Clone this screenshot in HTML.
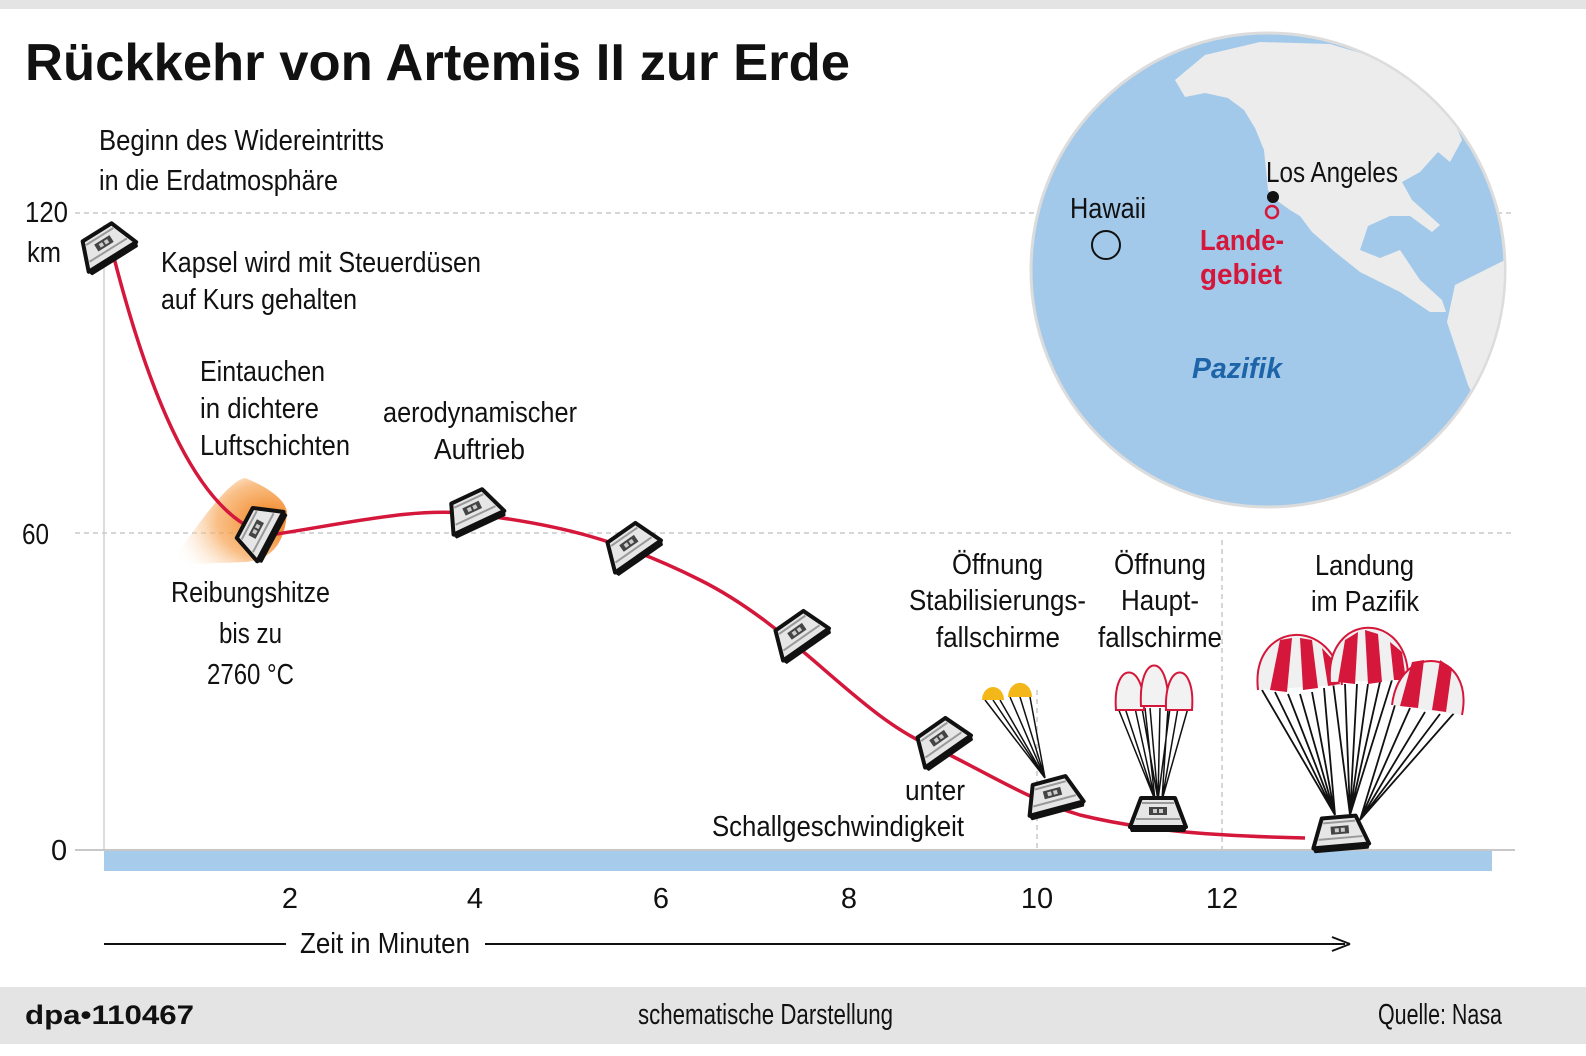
<!DOCTYPE html>
<html><head><meta charset="utf-8"><style>
html,body{margin:0;padding:0;background:#fff;}
svg{display:block;}
text{font-family:"Liberation Sans Narrow","Liberation Sans",sans-serif;fill:#111;font-size:29px;}
</style></head><body>
<svg width="1586" height="1056" viewBox="0 0 1586 1056" xmlns="http://www.w3.org/2000/svg">
<defs>
<g id="cap">
<path d="M-17,-15 L17,-15 L28,14 L-28,14 Z" fill="#e6e6e6" stroke="#111" stroke-width="4" stroke-linejoin="round"/>
<path d="M-29,14 L29,14 L27,19 L-27,19 Z" fill="#111"/>
<rect x="-9" y="-6" width="18" height="8" fill="#444"/>
<rect x="-5" y="-4" width="4" height="4" fill="#ccc"/><rect x="1" y="-4" width="4" height="4" fill="#ccc"/>
<path d="M-16,-10 L16,-10 M-22,6 L22,6" stroke="#999" stroke-width="2"/>
</g>
<radialGradient id="heat" cx="0.85" cy="0.5" r="0.9">
<stop offset="0" stop-color="#f07a10"/><stop offset="0.5" stop-color="#f7a555" stop-opacity="0.7"/><stop offset="1" stop-color="#fff" stop-opacity="0"/>
</radialGradient>
<clipPath id="gclip"><circle cx="1268" cy="270" r="236"/></clipPath>
</defs>
<rect x="0" y="0" width="1586" height="9" fill="#e4e4e4"/>
<text x="25" y="80" font-weight="bold" textLength="825" lengthAdjust="spacingAndGlyphs" style="font-family:'Liberation Sans',sans-serif;font-size:52px">Rückkehr von Artemis II zur Erde</text>

<!-- grid -->
<g stroke="#c8c8c8" stroke-width="1.5" stroke-dasharray="5,4">
<line x1="75" y1="213" x2="1515" y2="213"/>
<line x1="75" y1="533" x2="1515" y2="533"/>
<line x1="1037" y1="690" x2="1037" y2="850"/>
<line x1="1222" y1="540" x2="1222" y2="850"/>
</g>
<line x1="104" y1="225" x2="104" y2="850" stroke="#d0d0d0" stroke-width="1.5"/>
<line x1="75" y1="850" x2="1515" y2="850" stroke="#c8c8c8" stroke-width="2"/>
<rect x="104" y="851" width="1388" height="20" fill="#a7cbea"/>

<!-- globe -->
<circle cx="1268" cy="270" r="237" fill="#a3c9ea" stroke="#dcdcdc" stroke-width="3"/>
<g clip-path="url(#gclip)" fill="#ececec">
<path d="M1175,80 L1205,55 L1260,42 L1330,44 L1400,65 L1445,100 L1462,140 L1450,162 L1438,152 L1420,172 L1402,182 L1412,200 L1440,225 L1432,232 L1410,216 L1390,216 L1368,226 L1360,250 L1380,258 L1400,250 L1420,280 L1442,300 L1446,312 L1430,312 L1400,292 L1360,272 L1335,252 L1312,232 L1300,216 L1290,210 L1276,200 L1268,190 L1264,150 L1255,128 L1244,110 L1228,98 L1205,93 L1185,97 Z"/>
<path d="M1455,285 L1515,255 L1520,410 L1490,430 L1468,385 L1447,322 Z"/>
</g>
<text x="1266" y="182" textLength="132" lengthAdjust="spacingAndGlyphs">Los Angeles</text>
<circle cx="1273" cy="197" r="6" fill="#111"/>
<circle cx="1272" cy="212" r="6" fill="none" stroke="#d4173a" stroke-width="2.5"/>
<text x="1200" y="250" font-weight="bold" style="fill:#d4173a" textLength="84" lengthAdjust="spacingAndGlyphs">Lande-</text>
<text x="1200" y="284" font-weight="bold" style="fill:#d4173a" textLength="82" lengthAdjust="spacingAndGlyphs">gebiet</text>
<text x="1070" y="218" textLength="76" lengthAdjust="spacingAndGlyphs">Hawaii</text>
<circle cx="1106" cy="245" r="14" fill="none" stroke="#111" stroke-width="2"/>
<text x="1192" y="378" font-weight="bold" font-style="italic" style="fill:#1d64a8" textLength="90" lengthAdjust="spacingAndGlyphs">Pazifik</text>

<!-- heat glow -->
<path d="M170,565 C200,520 230,480 245,478 C270,488 285,500 287,512 C285,545 270,560 245,562 Z" fill="url(#heat)"/>

<!-- trajectory -->
<path d="M112,250 C150,400 200,520 270,535 C340,525 420,505 480,515 C560,525 620,540 700,580 C800,630 860,720 940,750 C1000,780 1030,800 1080,815 C1150,832 1220,836 1305,838" fill="none" stroke="#d4173a" stroke-width="3.5"/>

<!-- parachutes: stabilizing -->
<g stroke="#111" stroke-width="1.5">
<path d="M985,700 L1045,778 M993,700 L1045,778 M1000,700 L1045,778 M1010,697 L1045,778 M1020,697 L1045,778 M1030,697 L1045,778"/>
</g>
<path d="M982,700 A11,13 0 0 1 1004,700 Z" fill="#f4b719"/>
<path d="M1008,697 A11,13 0 0 1 1032,697 Z" fill="#f4b719"/>
<!-- main small -->
<g stroke="#111" stroke-width="1.5">
<path d="M1118,708 L1155,800 M1125,708 L1155,800 M1135,708 L1155,800 M1145,708 L1155,800 M1142,708 L1158,800 M1150,708 L1158,800 M1160,708 L1158,800 M1170,708 L1158,800 M1168,708 L1162,800 M1178,708 L1162,800 M1188,708 L1162,800"/>
</g>
<g fill="#f2f2f2" stroke="#d4173a" stroke-width="2">
<path d="M1116,710 C1112,660 1145,660 1144,710 Z"/>
<path d="M1141,706 C1138,652 1170,652 1168,706 Z"/>
<path d="M1166,710 C1164,660 1196,660 1192,710 Z"/>
</g>
<!-- landing -->
<g stroke="#111" stroke-width="1.8">
<path d="M1262,690 L1335,815 M1275,692 L1335,815 M1288,694 L1335,815 M1300,694 L1335,815 M1312,692 L1335,815 M1324,688 L1335,815"/>
<path d="M1333,682 L1350,815 M1345,684 L1350,815 M1357,684 L1350,815 M1368,684 L1350,815 M1380,682 L1350,815 M1392,680 L1350,815"/>
<path d="M1395,705 L1360,820 M1410,708 L1360,820 M1425,712 L1360,820 M1440,714 L1360,820 M1455,712 L1360,820"/>
</g>
<g>
<path d="M1258,690 C1250,620 1335,615 1342,685 Z" fill="#f0f0f0"/>
<path d="M1258,690 C1250,620 1335,615 1342,685" fill="none" stroke="#d4173a" stroke-width="2"/>
<path d="M1270,690 L1280,640 L1292,638 L1287,692 Z M1303,690 L1300,638 L1312,640 L1318,688 Z M1328,686 L1322,648 L1333,660 L1340,684 Z" fill="#d4173a"/>
<path d="M1330,682 C1325,610 1410,610 1408,680 Z" fill="#f0f0f0"/>
<path d="M1330,682 C1325,610 1410,610 1408,680" fill="none" stroke="#d4173a" stroke-width="2"/>
<path d="M1338,682 L1345,640 L1358,632 L1355,684 Z M1368,684 L1365,630 L1378,634 L1382,682 Z M1394,680 L1390,642 L1402,652 L1406,680 Z" fill="#d4173a"/>
<path d="M1392,705 C1400,640 1475,650 1462,715 Z" fill="#f0f0f0"/>
<path d="M1392,705 C1400,640 1475,650 1462,715" fill="none" stroke="#d4173a" stroke-width="2"/>
<path d="M1400,706 L1412,662 L1424,660 L1418,708 Z M1432,710 L1440,660 L1452,668 L1446,712 Z" fill="#d4173a"/>
</g>

<!-- capsules -->
<use href="#cap" transform="translate(105,245) rotate(-32)"/>
<use href="#cap" transform="translate(258,530) rotate(-62)"/>
<use href="#cap" transform="translate(473,510) rotate(-25)"/>
<use href="#cap" transform="translate(630,545) rotate(-35)"/>
<use href="#cap" transform="translate(798,633) rotate(-35)"/>
<use href="#cap" transform="translate(940,740) rotate(-35)"/>
<use href="#cap" transform="translate(1053,795) rotate(-15)"/>
<use href="#cap" transform="translate(1158,813) rotate(0)"/>
<use href="#cap" transform="translate(1340,832) rotate(-5)"/>

<!-- axis labels -->
<text x="25" y="222" textLength="43" lengthAdjust="spacingAndGlyphs">120</text>
<text x="27" y="262" textLength="34" lengthAdjust="spacingAndGlyphs">km</text>
<text x="22" y="544" textLength="27" lengthAdjust="spacingAndGlyphs">60</text>
<text x="51" y="860">0</text>
<g text-anchor="middle">
<text x="290" y="908">2</text><text x="475" y="908">4</text><text x="661" y="908">6</text>
<text x="849" y="908">8</text><text x="1037" y="908">10</text><text x="1222" y="908">12</text>
</g>
<line x1="104" y1="944" x2="286" y2="944" stroke="#111" stroke-width="2"/>
<line x1="485" y1="944" x2="1345" y2="944" stroke="#111" stroke-width="2"/>
<path d="M1350,944 L1332,937 M1350,944 L1332,951" stroke="#111" stroke-width="2" fill="none"/>
<text x="300" y="953" textLength="170" lengthAdjust="spacingAndGlyphs">Zeit in Minuten</text>

<!-- annotations -->
<text x="99" y="150" textLength="285" lengthAdjust="spacingAndGlyphs">Beginn des Widereintritts</text>
<text x="99" y="190" textLength="239" lengthAdjust="spacingAndGlyphs">in die Erdatmosphäre</text>
<text x="161" y="272" textLength="320" lengthAdjust="spacingAndGlyphs">Kapsel wird mit Steuerdüsen</text>
<text x="161" y="309" textLength="196" lengthAdjust="spacingAndGlyphs">auf Kurs gehalten</text>
<text x="200" y="381" textLength="125" lengthAdjust="spacingAndGlyphs">Eintauchen</text>
<text x="200" y="418" textLength="119" lengthAdjust="spacingAndGlyphs">in dichtere</text>
<text x="200" y="455" textLength="150" lengthAdjust="spacingAndGlyphs">Luftschichten</text>
<text x="383" y="422" textLength="194" lengthAdjust="spacingAndGlyphs">aerodynamischer</text>
<text x="434" y="459" textLength="91" lengthAdjust="spacingAndGlyphs">Auftrieb</text>
<text x="171" y="602" textLength="159" lengthAdjust="spacingAndGlyphs">Reibungshitze</text>
<text x="219" y="643" textLength="63" lengthAdjust="spacingAndGlyphs">bis zu</text>
<text x="207" y="684" textLength="87" lengthAdjust="spacingAndGlyphs">2760 °C</text>
<text x="952" y="574" textLength="91" lengthAdjust="spacingAndGlyphs">Öffnung</text>
<text x="909" y="610" textLength="177" lengthAdjust="spacingAndGlyphs">Stabilisierungs-</text>
<text x="936" y="647" textLength="124" lengthAdjust="spacingAndGlyphs">fallschirme</text>
<text x="1114" y="574" textLength="92" lengthAdjust="spacingAndGlyphs">Öffnung</text>
<text x="1121" y="610" textLength="78" lengthAdjust="spacingAndGlyphs">Haupt-</text>
<text x="1098" y="647" textLength="124" lengthAdjust="spacingAndGlyphs">fallschirme</text>
<text x="1315" y="575" textLength="99" lengthAdjust="spacingAndGlyphs">Landung</text>
<text x="1311" y="611" textLength="108" lengthAdjust="spacingAndGlyphs">im Pazifik</text>
<text x="905" y="800" textLength="60" lengthAdjust="spacingAndGlyphs">unter</text>
<text x="712" y="836" textLength="252" lengthAdjust="spacingAndGlyphs">Schallgeschwindigkeit</text>

<!-- footer -->
<rect x="0" y="987" width="1586" height="57" fill="#e4e4e4"/>
<text x="25" y="1024" font-weight="bold" textLength="169" lengthAdjust="spacingAndGlyphs" style="font-family:'Liberation Sans',sans-serif;font-size:27px">dpa•110467</text>
<text x="638" y="1024" textLength="255" lengthAdjust="spacingAndGlyphs">schematische Darstellung</text>
<text x="1378" y="1024" textLength="124" lengthAdjust="spacingAndGlyphs">Quelle: Nasa</text>
</svg>
</body></html>
